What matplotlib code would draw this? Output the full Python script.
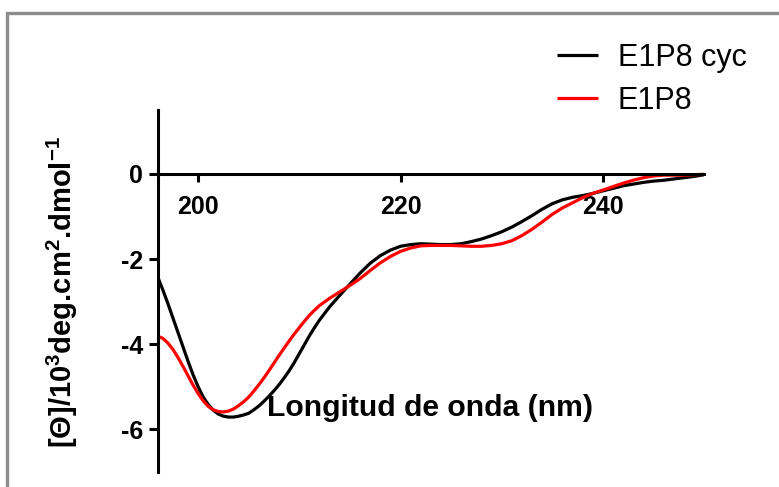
import matplotlib
matplotlib.use("Agg")
import matplotlib.pyplot as plt
from matplotlib.patches import Rectangle

plt.rcParams['font.family'] = ['Liberation Sans', 'DejaVu Sans']
plt.rcParams['mathtext.default'] = 'regular'

wavelength = [196, 196.5, 197, 197.5, 198, 198.5, 199, 199.5, 200, 200.5,
              201, 201.5, 202, 202.5, 203, 203.5, 204, 204.5, 205, 205.5,
              206, 206.5, 207, 207.5, 208, 208.5, 209, 209.5, 210, 210.5,
              211, 211.5, 212, 213, 214, 215, 216, 217, 218, 219,
              220, 221, 222, 223, 224, 225, 226, 227, 228, 229,
              230, 231, 232, 233, 234, 235, 236, 237, 238, 239,
              240, 241, 242, 243, 244, 245, 246, 247, 248, 249, 250]

e1p8_cyc = [-2.42, -2.72, -3.04, -3.38, -3.72, -4.06, -4.40, -4.72, -5.00, -5.24,
            -5.42, -5.55, -5.64, -5.69, -5.71, -5.71, -5.69, -5.66, -5.62, -5.54,
            -5.45, -5.34, -5.22, -5.09, -4.95, -4.79, -4.62, -4.43, -4.22, -4.01,
            -3.80, -3.61, -3.43, -3.12, -2.85, -2.59, -2.33, -2.10, -1.92, -1.79,
            -1.70, -1.66, -1.64, -1.65, -1.66, -1.66, -1.64, -1.59, -1.53, -1.45,
            -1.36, -1.25, -1.12, -0.98, -0.83, -0.70, -0.61, -0.55, -0.51, -0.46,
            -0.40, -0.34, -0.28, -0.24, -0.20, -0.17, -0.15, -0.12, -0.09, -0.06, -0.02]

e1p8 = [-3.81, -3.86, -3.97, -4.12, -4.31, -4.52, -4.74, -4.96, -5.16, -5.33,
        -5.46, -5.54, -5.58, -5.59, -5.57, -5.52, -5.44, -5.35, -5.24, -5.10,
        -4.95, -4.79, -4.62, -4.44, -4.26, -4.09, -3.92, -3.76, -3.61, -3.46,
        -3.32, -3.20, -3.09, -2.92, -2.77, -2.62, -2.46, -2.27, -2.09, -1.94,
        -1.82, -1.74, -1.69, -1.68, -1.68, -1.68, -1.69, -1.70, -1.70, -1.68,
        -1.64, -1.57, -1.45, -1.30, -1.13, -0.95, -0.80, -0.68, -0.56, -0.46,
        -0.38, -0.30, -0.22, -0.15, -0.09, -0.05, -0.03, -0.03, -0.03, -0.02, -0.01]

series_labels = ["E1P8 cyc", "E1P8"]
series_colors = ["#000000", "#ff0000"]
xticks = [200, 220, 240]
yticks = [0, -2, -4, -6]

W, H = 779, 487
fig = plt.figure(figsize=(W / 100, H / 100), dpi=100)
ax = fig.add_axes([157.7 / W, 1 - 472 / H, (704 - 157.7) / W, (472 - 110) / H])

for vals, lab, col in zip([e1p8_cyc, e1p8], series_labels, series_colors):
    ax.plot(wavelength, vals, color=col, lw=2.3, label=lab,
            solid_capstyle='butt', solid_joinstyle='round')

ax.set_xlim(196, 250)
ax.set_ylim(-7, 1.5)
ax.spines['top'].set_visible(False)
ax.spines['right'].set_visible(False)
ax.spines['bottom'].set_position(('data', 0))
for s in ['left', 'bottom']:
    ax.spines[s].set_linewidth(2.2)

ax.set_xticks(xticks)
ax.set_yticks(yticks)
ax.set_xticklabels([str(v) for v in xticks], fontsize=18, fontweight='bold')
ax.set_yticklabels([str(v) for v in yticks], fontsize=18, fontweight='bold')
ax.tick_params(axis='x', direction='out', length=6, width=2.2, pad=9)
ax.tick_params(axis='y', direction='out', length=6.5, width=2.2, pad=4)

ax.set_xlabel("Longitud de onda (nm)", fontsize=21.7, fontweight='bold')
ax.xaxis.set_label_coords((430 - 157.7) / (704 - 157.7), (472 - 408) / 362, transform=ax.transAxes)
ax.xaxis.label.set_va('center')

ax.set_ylabel("[Θ]/10$^{3}$deg.cm$^{2}$.dmol$^{-1}$", fontsize=21, fontweight='bold')
ax.yaxis.set_label_coords((62 - 157.7) / (704 - 157.7), (472 - 292) / 362, transform=ax.transAxes)
ax.yaxis.label.set_va('center')
ax.yaxis.label.set_rotation_mode('default')

leg = ax.legend(loc='upper left', bbox_to_anchor=(557 / W, 1 - 43 / H),
                bbox_transform=fig.transFigure, frameon=False, fontsize=22,
                handlelength=1.34, handletextpad=0.65, labelspacing=0.42,
                borderaxespad=0, borderpad=0)
for line in leg.get_lines():
    line.set_linewidth(2.3)

frame = Rectangle((7 / W, -0.2), 1.5, 1.2 - 13 / H, transform=fig.transFigure,
                  fill=False, edgecolor='#8c8c8c', lw=2.4, clip_on=False)
fig.add_artist(frame)

fig.savefig("out.png", dpi=100)
